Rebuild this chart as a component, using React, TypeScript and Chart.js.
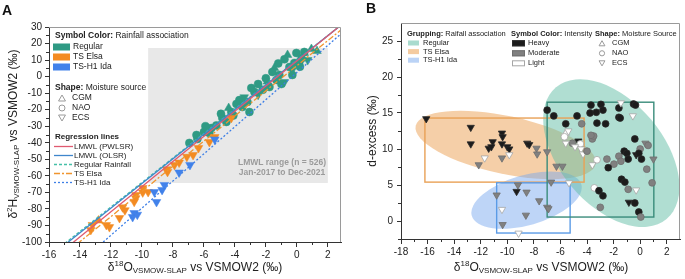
import React, { useEffect, useRef } from 'react';
import { Chart, registerables } from 'chart.js';

Chart.register(...registerables);

const FONT = "'Liberation Sans', Arial, Helvetica, sans-serif";

// ---------------- Panel A data ----------------
const A_X_TICKS = [-16, -14, -12, -10, -8, -6, -4, -2, 0, 2];
const A_X_MINOR = [-15, -13, -11, -9, -7, -5, -3, -1, 1];
const A_Y_TICKS = [-100, -90, -80, -70, -60, -50, -40, -30, -20, -10, 0, 10, 20, 30];
const A_Y_MINOR = [-95, -85, -75, -65, -55, -45, -35, -25, -15, -5, 5, 15, 25];

// [δ18O, δ2H, moisture source]   c = NAO, u = CGM, d = ECS
const A_REGULAR: [number, number, string][] = [
  [-6.94, -40.1, 'c'], [-6.42, -37.7, 'c'], [-6.48, -35.3, 'c'], [-6.0, -33.5, 'c'], [-5.65, -34.1, 'c'],
  [-5.52, -31.1, 'c'], [-5.2, -29.5, 'c'], [-4.81, -25.0, 'c'], [-4.55, -27.4, 'c'], [-4.9, -22.5, 'c'],
  [-4.23, -21.4, 'c'], [-4.4, -19.0, 'u'], [-3.71, -14.2, 'c'], [-3.52, -18.4, 'c'], [-3.19, -15.3, 'c'],
  [-3.06, -21.4, 'c'], [-3.9, -16.5, 'c'], [-3.4, -12.5, 'd'], [-2.94, -6.9, 'c'], [-2.74, -9.3, 'c'],
  [-2.5, -11.0, 'd'], [-2.2, -8.0, 'c'], [-1.77, -6.3, 'c'], [-1.9, -3.0, 'u'], [-1.45, 5.2, 'u'],
  [-1.58, 2.8, 'c'], [-1.32, -2.0, 'c'], [-1.13, 1.0, 'c'], [-0.81, -3.3, 'd'], [-1.0, -4.5, 'c'],
  [-0.29, 1.0, 'c'], [-0.48, 5.8, 'c'], [-0.16, 8.2, 'c'], [0.16, 8.8, 'c'], [-0.6, 13.1, 'u'],
  [-0.03, 14.3, 'c'], [0.48, 14.9, 'c'], [0.94, 16.7, 'u'], [0.3, 11.0, 'c'], [0.7, 10.0, 'd'],
  [1.3, 15.5, 'u'], [-0.8, 10.5, 'c'], [-0.3, 4.0, 'd'], [0.2, 6.0, 'c'], [-2.0, -1.0, 'c'],
  [-2.5, -4.5, 'c'], [0.48, 14.3, 'u'], [-1.2, 8.0, 'c'], [-5.9, -30.0, 'c'], [-4.1, -23.5, 'c'],
];
const A_ELSA: [number, number, string][] = [
  [-4.23, -25.0, 'd'], [-5.3, -36.5, 'd'], [-5.65, -39.5, 'd'], [-6.35, -43.2, 'd'], [-6.7, -47.4, 'd'],
  [-7.1, -48.5, 'd'], [-7.6, -52.0, 'd'], [-7.9, -53.4, 'd'], [-8.35, -57.6, 'd'], [-8.4, -56.0, 'd'],
  [-9.6, -69.8, 'd'], [-9.95, -70.0, 'd'], [-9.95, -67.4, 'd'], [-10.4, -71.6, 'd'], [-10.4, -73.5, 'd'],
  [-10.5, -75.7, 'd'], [-11.25, -79.0, 'd'], [-11.1, -80.8, 'd'], [-11.45, -85.5, 'd'], [-12.1, -91.0, 'd'],
  [-12.3, -89.7, 'd'], [-12.8, -87.0, 'u'], [-13.2, -89.7, 'd'], [-13.3, -92.7, 'd'],
];
const A_IDA: [number, number, string][] = [
  [-5.3, -38.0, 'd'], [-6.9, -53.4, 'd'], [-7.6, -58.0, 'd'], [-8.55, -65.5, 'd'], [-8.7, -68.5, 'd'],
  [-9.2, -69.8, 'd'], [-9.06, -75.8, 'd'], [-10.5, -82.5, 'd'], [-10.6, -84.9, 'd'], [-10.3, -83.5, 'd'],
];

const LINE_NAMES = ['LMWL (PWLSR)', 'LMWL (OLSR)', 'Regular Rainfall', 'TS Elsa', 'TS-H1 Ida'];
const LINE_SLOPES = [7.6, 7.45, 7.4, 7.6, 8.2];
const LINE_INTERCEPTS = [9.5, 9.9, 10.0, 6.6, 2.5];
const LINE_X_RANGE = [-16, 3];
const LMWL_RANGE_X = [-9.6, 2.0];
const LMWL_RANGE_Y = [-64.3, 17.3];

// ---------------- Panel B data ----------------
const B_X_TICKS = [-18, -16, -14, -12, -10, -8, -6, -4, -2, 0, 2];
const B_X_MINOR = [-17, -15, -13, -11, -9, -7, -5, -3, -1, 1];
const B_Y_TICKS = [0, 5, 10, 15, 20, 25];
const B_Y_MINOR = [-2.5, 2.5, 7.5, 12.5, 17.5, 22.5];

// [δ18O, d-excess, intensity (0 heavy, 1 moderate, 2 light), moisture source]
const B_REGULAR: [number, number, number, string][] = [
  [-7.0, 15.4, 0, 'c'], [-6.5, 14.6, 0, 'c'], [-4.75, 14.6, 0, 'c'], [-5.6, 13.5, 0, 'c'], [-4.4, 13.5, 1, 'c'],
  [-3.7, 16.1, 0, 'c'], [-2.95, 16.2, 0, 'c'], [-3.77, 15.0, 0, 'c'], [-3.3, 15.1, 0, 'c'], [-2.8, 15.4, 0, 'c'],
  [-1.6, 15.7, 0, 'c'], [-1.45, 16.4, 2, 'd'], [-0.5, 16.25, 0, 'c'], [-0.35, 16.1, 0, 'c'], [-1.6, 14.4, 0, 'c'],
  [-1.5, 14.3, 0, 'c'], [-0.55, 14.6, 2, 'd'], [-3.25, 13.6, 0, 'c'], [-2.6, 13.5, 0, 'c'], [-5.6, 12.2, 2, 'u'],
  [-5.4, 12.5, 2, 'd'], [-5.7, 11.7, 2, 'c'], [-5.1, 10.8, 1, 'c'], [-4.65, 11.1, 0, 'd'], [-4.5, 10.7, 2, 'c'],
  [-4.45, 10.0, 2, 'd'], [-4.3, 9.3, 2, 'd'], [-4.0, 9.7, 1, 'c'], [-3.6, 11.4, 1, 'c'], [-3.5, 11.8, 1, 'c'],
  [-3.25, 8.5, 2, 'c'], [-3.6, 7.8, 2, 'd'], [-2.5, 8.6, 1, 'c'], [-1.97, 7.9, 1, 'c'], [-2.4, 7.4, 0, 'c'],
  [-1.6, 9.0, 1, 'c'], [-1.45, 8.3, 1, 'c'], [-1.2, 9.7, 0, 'c'], [-1.0, 9.4, 0, 'c'], [-0.3, 9.2, 0, 'd'],
  [0.0, 10.0, 1, 'c'], [-0.1, 9.4, 0, 'c'], [-0.4, 11.4, 0, 'c'], [0.4, 10.8, 1, 'd'], [0.1, 8.6, 0, 'c'],
  [0.5, 7.2, 1, 'c'], [1.0, 8.6, 1, 'd'], [-0.9, 8.6, 0, 'c'], [-1.4, 5.8, 0, 'c'], [-1.15, 5.4, 0, 'c'],
  [0.9, 5.3, 1, 'c'], [-3.45, 4.6, 2, 'c'], [-3.1, 4.2, 0, 'c'], [-2.8, 3.5, 0, 'c'], [-3.0, 1.9, 1, 'c'],
  [-0.9, 4.4, 1, 'c'], [-0.3, 4.3, 2, 'd'], [-0.85, 2.6, 0, 'd'], [-0.4, 2.5, 0, 'c'], [-0.1, 1.25, 0, 'c'],
  [0.05, 0.55, 1, 'c'], [-3.7, 11.9, 1, 'c'], [0.6, 10.5, 1, 'c'], [-5.6, 10.8, 2, 'd'], [-4.9, 10.3, 2, 'd'],
];
const B_ELSA: [number, number, number, string][] = [
  [-16.1, 14.2, 0, 'd'], [-12.75, 13.0, 0, 'd'], [-10.4, 12.2, 0, 'd'], [-10.35, 11.7, 0, 'd'], [-11.1, 11.0, 0, 'd'],
  [-12.75, 10.7, 0, 'd'], [-11.4, 10.1, 0, 'd'], [-11.2, 10.3, 0, 'd'], [-10.4, 10.7, 0, 'd'], [-10.0, 10.3, 0, 'd'],
  [-9.85, 10.0, 0, 'd'], [-8.5, 10.8, 0, 'd'], [-8.35, 10.6, 0, 'd'], [-7.8, 10.1, 1, 'd'], [-7.75, 9.3, 1, 'd'],
  [-7.0, 9.6, 1, 'd'], [-11.7, 8.75, 2, 'd'], [-10.4, 8.75, 1, 'd'], [-9.85, 9.2, 2, 'd'], [-12.15, 7.8, 1, 'd'],
  [-6.3, 7.6, 1, 'd'], [-5.85, 7.6, 1, 'd'],
];
const B_IDA: [number, number, number, string][] = [
  [-9.2, 5.0, 1, 'd'], [-10.8, 3.6, 1, 'd'], [-9.3, 4.1, 0, 'd'], [-8.55, 4.0, 1, 'd'], [-7.6, 2.8, 1, 'd'],
  [-10.4, 1.6, 2, 'd'], [-8.6, 0.8, 1, 'd'], [-10.35, -0.5, 1, 'd'], [-9.15, -1.7, 2, 'd'], [-7.0, 1.9, 1, 'd'],
  [-6.9, 1.7, 1, 'd'], [-5.35, 5.3, 2, 'd'], [-6.7, 5.4, 1, 'd'],
];

// group bounding boxes [x0, x1, y0, y1]
const B_REGULAR_BOX = [-7.0, 1.03, 0.55, 16.5];
const B_ELSA_BOX = [-16.2, -4.22, 5.4, 14.3];
const B_IDA_BOX = [-10.8, -5.27, -1.67, 5.3];
// group ellipse centres [x, y]
const B_REGULAR_CENTER = [-2.17, 9.44];
const B_ELSA_CENTER = [-10.12, 10.56];
const B_IDA_CENTER = [-8.55, 2.9];

// ---------------- styles ----------------
const TEAL = '#2f9a84';
const ORANGE = '#f38b22';
const BLUE = '#4282ea';
const AXIS = '#333';
const FRAME = '#9a9a9a';
const LINE_COLORS = ['#e05a70', '#3f86cc', '#45c0a8', '#f0952e', '#3d7fe6'];
const LINE_DASH = [[], [], [3, 2], [6, 2, 2, 2], [2, 2]];
const INT_FILL = ['#1c1c1c', '#808080', '#ffffff'];
const INT_STROKE = ['#2a2a2a', '#6e6e6e', '#a6a6a6'];

type Run = { t: string; size: number; dy?: number; bold?: boolean };

function runFont(r: Run) {
  return `${r.bold ? 'bold ' : ''}${r.size}px ${FONT}`;
}
function drawRich(ctx: CanvasRenderingContext2D, runs: Run[], x: number, y: number, opts: { rotate?: boolean; align?: 'left' | 'center'; color?: string } = {}) {
  ctx.save();
  ctx.translate(x, y);
  if (opts.rotate) ctx.rotate(-Math.PI / 2);
  let w = 0;
  runs.forEach(r => { ctx.font = runFont(r); w += ctx.measureText(r.t).width; });
  let cx = opts.align === 'left' ? 0 : -w / 2;
  ctx.fillStyle = opts.color || '#222';
  ctx.textBaseline = 'middle';
  ctx.textAlign = 'left';
  runs.forEach(r => {
    ctx.font = runFont(r);
    ctx.fillText(r.t, cx, r.dy || 0);
    cx += ctx.measureText(r.t).width;
  });
  ctx.restore();
}

function drawShape(ctx: CanvasRenderingContext2D, shape: string, x: number, y: number, r: number, fill: string | null, stroke: string | null) {
  ctx.beginPath();
  if (shape === 'c') ctx.arc(x, y, r, 0, Math.PI * 2);
  else {
    const s = shape === 'u' ? 1 : -1;
    ctx.moveTo(x, y - s * r);
    ctx.lineTo(x + r * 0.866, y + s * r * 0.5);
    ctx.lineTo(x - r * 0.866, y + s * r * 0.5);
    ctx.closePath();
  }
  if (fill) { ctx.fillStyle = fill; ctx.fill(); }
  if (stroke) { ctx.strokeStyle = stroke; ctx.lineWidth = 1; ctx.stroke(); }
}

function drawFrameAndMinor(chart: any, xm: number[], ym: number[]) {
  const { ctx, chartArea: a, scales } = chart;
  ctx.save();
  ctx.strokeStyle = FRAME;
  ctx.lineWidth = 1;
  ctx.beginPath();
  ctx.moveTo(a.left, a.top + 0.5);
  ctx.lineTo(a.right - 0.5, a.top + 0.5);
  ctx.lineTo(a.right - 0.5, a.bottom);
  ctx.stroke();
  ctx.strokeStyle = AXIS;
  ctx.beginPath();
  xm.forEach(v => {
    const p = Math.round(scales.x.getPixelForValue(v)) + 0.5;
    ctx.moveTo(p, a.bottom); ctx.lineTo(p, a.bottom + 3);
  });
  ym.forEach(v => {
    const p = Math.round(scales.y.getPixelForValue(v)) + 0.5;
    ctx.moveTo(a.left - 3, p); ctx.lineTo(a.left, p);
  });
  ctx.stroke();
  ctx.restore();
}

const xTitleRuns: Run[] = [
  { t: 'δ', size: 12 }, { t: '18', size: 8, dy: -4 }, { t: 'O', size: 12 }, { t: 'VSMOW-SLAP', size: 8, dy: 3 },
  { t: ' vs VSMOW2 (‰)', size: 12 },
];

const panelAPlugin = {
  id: 'panelA',
  beforeDatasetsDraw(chart: any) {
    const { ctx, scales: { x, y } } = chart;
    ctx.save();
    const x0 = x.getPixelForValue(LMWL_RANGE_X[0]);
    const x1 = x.getPixelForValue(LMWL_RANGE_X[1]);
    const y0 = y.getPixelForValue(LMWL_RANGE_Y[1]);
    const y1 = y.getPixelForValue(LMWL_RANGE_Y[0]);
    ctx.fillStyle = '#e8e8e8';
    ctx.fillRect(x0, y0, x1 - x0, y1 - y0);
    ctx.fillStyle = '#9b9b9b';
    ctx.font = `bold 8.5px ${FONT}`;
    ctx.textAlign = 'center';
    ctx.textBaseline = 'middle';
    ctx.fillText('LMWL range (n = 526)', 282, 163);
    ctx.fillText('Jan-2017 to Dec-2021', 282, 173);
    ctx.restore();
  },
  afterDraw(chart: any) {
    const { ctx } = chart;
    drawFrameAndMinor(chart, A_X_MINOR, A_Y_MINOR);
    ctx.save();
    // panel label
    ctx.fillStyle = '#111';
    ctx.font = `bold 14px ${FONT}`;
    ctx.textBaseline = 'alphabetic';
    ctx.fillText('A', 2, 15);
    // axis titles
    drawRich(ctx, xTitleRuns, 195, 268);
    drawRich(ctx, [
      { t: 'δ', size: 12 }, { t: '2', size: 8, dy: -4 }, { t: 'H', size: 12 }, { t: 'VSMOW-SLAP', size: 8, dy: 3 },
      { t: ' vs VSMOW2 (‰)', size: 12 },
    ], 14, 134, { rotate: true });
    // legend: colours
    const fs = 8.5;
    drawRich(ctx, [{ t: 'Symbol Color:', size: fs, bold: true }, { t: ' Rainfall association', size: fs }], 55, 36, { align: 'left' });
    const sw = [TEAL, ORANGE, BLUE];
    const swn = ['Regular', 'TS Elsa', 'TS-H1 Ida'];
    sw.forEach((c, i) => {
      const yy = 47 + i * 10;
      ctx.fillStyle = c;
      ctx.fillRect(53, yy - 3.5, 17, 7);
      drawRich(ctx, [{ t: swn[i], size: fs }], 73, yy, { align: 'left' });
    });
    drawRich(ctx, [{ t: 'Shape:', size: fs, bold: true }, { t: ' Moisture source', size: fs }], 55, 88, { align: 'left' });
    ['u', 'c', 'd'].forEach((s, i) => {
      const yy = 98 + i * 10;
      drawShape(ctx, s, 62, yy + (s === 'c' ? 0 : s === 'u' ? 1 : -1), s === 'c' ? 3 : 4, '#fff', '#9a9a9a');
      drawRich(ctx, [{ t: ['CGM', 'NAO', 'ECS'][i], size: fs }], 72, yy, { align: 'left' });
    });
    drawRich(ctx, [{ t: 'Regression lines', size: 8, bold: true }], 55, 137, { align: 'left' });
    LINE_NAMES.forEach((n, i) => {
      const yy = 146.5 + i * 9;
      ctx.strokeStyle = LINE_COLORS[i];
      ctx.lineWidth = 1.3;
      ctx.setLineDash(LINE_DASH[i]);
      ctx.beginPath(); ctx.moveTo(54, yy); ctx.lineTo(73, yy); ctx.stroke();
      ctx.setLineDash([]);
      drawRich(ctx, [{ t: n, size: 8 }], 74, yy, { align: 'left' });
    });
    ctx.restore();
  },
};

const panelBPlugin = {
  id: 'panelB',
  beforeDatasetsDraw(chart: any) {
    const { ctx, scales: { x, y }, chartArea: a } = chart;
    ctx.save();
    ctx.beginPath();
    ctx.rect(a.left, a.top, a.right - a.left, a.bottom - a.top);
    ctx.clip();
    const ell = (c: number[], rx: number, ry: number, rot: number, fill: string) => {
      ctx.beginPath();
      ctx.ellipse(x.getPixelForValue(c[0]), y.getPixelForValue(c[1]), rx, ry, (rot * Math.PI) / 180, 0, Math.PI * 2);
      ctx.fillStyle = fill;
      ctx.fill();
    };
    ell(B_ELSA_CENTER, 92, 29, 12, 'rgba(236,168,96,0.55)');
    ell(B_IDA_CENTER, 57, 25, -16, 'rgba(120,168,238,0.48)');
    ell(B_REGULAR_CENTER, 86, 52, 50, 'rgba(98,190,165,0.5)');
    const box = (b: number[], c: string) => {
      const x0 = x.getPixelForValue(b[0]), x1 = x.getPixelForValue(b[1]);
      const y0 = y.getPixelForValue(b[3]), y1 = y.getPixelForValue(b[2]);
      ctx.strokeStyle = c;
      ctx.lineWidth = 1.4;
      ctx.strokeRect(x0, y0, x1 - x0, y1 - y0);
    };
    box(B_ELSA_BOX, '#e9a156');
    box(B_IDA_BOX, '#5b9be6');
    box(B_REGULAR_BOX, '#3a8c7b');
    ctx.restore();
  },
  afterDraw(chart: any) {
    const { ctx } = chart;
    drawFrameAndMinor(chart, B_X_MINOR, B_Y_MINOR);
    ctx.save();
    ctx.fillStyle = '#111';
    ctx.font = `bold 14px ${FONT}`;
    ctx.textBaseline = 'alphabetic';
    ctx.fillText('B', 366, 13);
    drawRich(ctx, xTitleRuns, 541, 268);
    drawRich(ctx, [{ t: 'd-excess (‰)', size: 12 }], 373, 131, { rotate: true });
    const fs = 7.5;
    drawRich(ctx, [{ t: 'Grupping:', size: fs, bold: true }, { t: ' Raifall association', size: fs }], 407, 34, { align: 'left' });
    const gf = ['rgba(98,190,165,0.55)', 'rgba(236,168,96,0.6)', 'rgba(120,168,238,0.5)'];
    const gn = ['Regular', 'TS Elsa', 'TS-H1 Ida'];
    gf.forEach((c, i) => {
      const yy = 43 + i * 8.6;
      ctx.fillStyle = c;
      ctx.fillRect(408, yy - 2.5, 11, 5);
      drawRich(ctx, [{ t: gn[i], size: fs }], 423, yy, { align: 'left' });
    });
    drawRich(ctx, [{ t: 'Symbol Color:', size: fs, bold: true }, { t: ' Intensity', size: fs }], 511, 34, { align: 'left' });
    ['Heavy', 'Moderate', 'Light'].forEach((n, i) => {
      const yy = 43.3 + i * 10;
      ctx.fillStyle = INT_FILL[i];
      ctx.fillRect(512, yy - 3, 13, 6);
      ctx.strokeStyle = INT_STROKE[i];
      ctx.lineWidth = 1;
      ctx.strokeRect(512.5, yy - 2.5, 12, 5);
      drawRich(ctx, [{ t: n, size: fs }], 528, yy, { align: 'left' });
    });
    drawRich(ctx, [{ t: 'Shape:', size: fs, bold: true }, { t: ' Moisture Source', size: fs }], 595, 34, { align: 'left' });
    ['u', 'c', 'd'].forEach((s, i) => {
      const yy = 43.3 + i * 10;
      drawShape(ctx, s, 602, yy + (s === 'c' ? 0 : s === 'u' ? 0.8 : -0.8), s === 'c' ? 2.6 : 3.4, '#fff', '#9a9a9a');
      drawRich(ctx, [{ t: ['CGM', 'NAO', 'ECS'][i], size: fs }], 612, yy, { align: 'left' });
    });
    ctx.restore();
  },
};

function axisCommon(ticks: number[], min: number, max: number, size: number, isX: boolean, pad: number) {
  return {
    type: 'linear' as const,
    min,
    max,
    afterBuildTicks: (s: any) => { s.ticks = ticks.map(v => ({ value: v })); },
    afterFit: (s: any) => { if (isX) s.height = size; else s.width = size; },
    grid: { drawOnChartArea: false, drawTicks: true, tickLength: isX ? 5 : 4, color: AXIS, lineWidth: 1 },
    border: { display: true, color: AXIS, width: 1 },
    ticks: {
      autoSkip: false, maxRotation: 0, padding: pad, color: '#222',
      font: { family: FONT, size: 10 },
      callback: (v: any) => String(v),
    },
  };
}

function scatterDS(rows: [number, number, string][], color: string) {
  return {
    type: 'scatter' as const,
    data: rows.map(r => ({ x: r[0], y: r[1] })),
    pointStyle: rows.map(r => (r[2] === 'c' ? 'circle' : 'triangle')),
    pointRotation: rows.map(r => (r[2] === 'd' ? 180 : 0)),
    pointRadius: rows.map(r => (r[2] === 'c' ? 4 : 5)),
    pointBackgroundColor: color,
    pointBorderColor: color,
    pointBorderWidth: 0.5,
    order: 2,
  };
}

function scatterB(rows: [number, number, number, string][]) {
  return {
    type: 'scatter' as const,
    data: rows.map(r => ({ x: r[0], y: r[1] })),
    pointStyle: rows.map(r => (r[3] === 'c' ? 'circle' : 'triangle')),
    pointRotation: rows.map(r => (r[3] === 'd' ? 180 : 0)),
    pointRadius: rows.map(r => (r[3] === 'c' ? 3.4 : 4.2)),
    pointBackgroundColor: rows.map(r => INT_FILL[r[2]]),
    pointBorderColor: rows.map(r => INT_STROKE[r[2]]),
    pointBorderWidth: 0.8,
  };
}

function configA(): any {
  const lines = LINE_NAMES.map((n, i) => ({
    type: 'scatter' as const,
    label: n,
    showLine: true,
    data: LINE_X_RANGE.map(xv => ({ x: xv, y: LINE_SLOPES[i] * xv + LINE_INTERCEPTS[i] })),
    borderColor: LINE_COLORS[i],
    borderDash: LINE_DASH[i],
    borderWidth: 1.3,
    pointRadius: 0,
    order: 1,
  }));
  return {
    type: 'scatter',
    data: {
      datasets: [
        ...lines,
        { ...scatterDS(A_IDA, BLUE), label: 'TS-H1 Ida' },
        { ...scatterDS(A_ELSA, ORANGE), label: 'TS Elsa' },
        { ...scatterDS(A_REGULAR, TEAL), label: 'Regular' },
      ],
    },
    options: {
      responsive: false,
      animation: false,
      devicePixelRatio: 1,
      events: [],
      layout: { padding: { left: 0, right: 685 - 341, top: 27, bottom: 0 } },
      plugins: { legend: { display: false }, tooltip: { enabled: false } },
      scales: {
        x: axisCommon(A_X_TICKS, -16, 2.85, 279 - 242, true, 2),
        y: axisCommon(A_Y_TICKS, -100, 30, 49, false, 3),
      },
    },
    plugins: [panelAPlugin],
  };
}

function configB(): any {
  return {
    type: 'scatter',
    data: {
      datasets: [
        { ...scatterB(B_REGULAR), label: 'Regular' },
        { ...scatterB(B_ELSA), label: 'TS Elsa' },
        { ...scatterB(B_IDA), label: 'TS-H1 Ida' },
      ],
    },
    options: {
      responsive: false,
      animation: false,
      devicePixelRatio: 1,
      events: [],
      layout: { padding: { left: 360, right: 685 - 681, top: 23, bottom: 0 } },
      plugins: { legend: { display: false }, tooltip: { enabled: false } },
      scales: {
        x: axisCommon(B_X_TICKS, -18, 3, 279 - 239, true, 2),
        y: axisCommon(B_Y_TICKS, -2.5, 27.5, 41, false, 4),
      },
    },
    plugins: [panelBPlugin],
  };
}

export default function App() {
  const refA = useRef<HTMLCanvasElement>(null);
  const refB = useRef<HTMLCanvasElement>(null);
  useEffect(() => {
    const a = new Chart(refA.current as HTMLCanvasElement, configA());
    const b = new Chart(refB.current as HTMLCanvasElement, configB());
    return () => { a.destroy(); b.destroy(); };
  }, []);
  return (
    <div style={{ position: 'absolute', left: 0, top: 0, width: 685, height: 279, background: '#fff' }}>
      <canvas ref={refA} width={685} height={279} style={{ position: 'absolute', left: 0, top: 0 }} />
      <canvas ref={refB} width={685} height={279} style={{ position: 'absolute', left: 0, top: 0 }} />
    </div>
  );
}
